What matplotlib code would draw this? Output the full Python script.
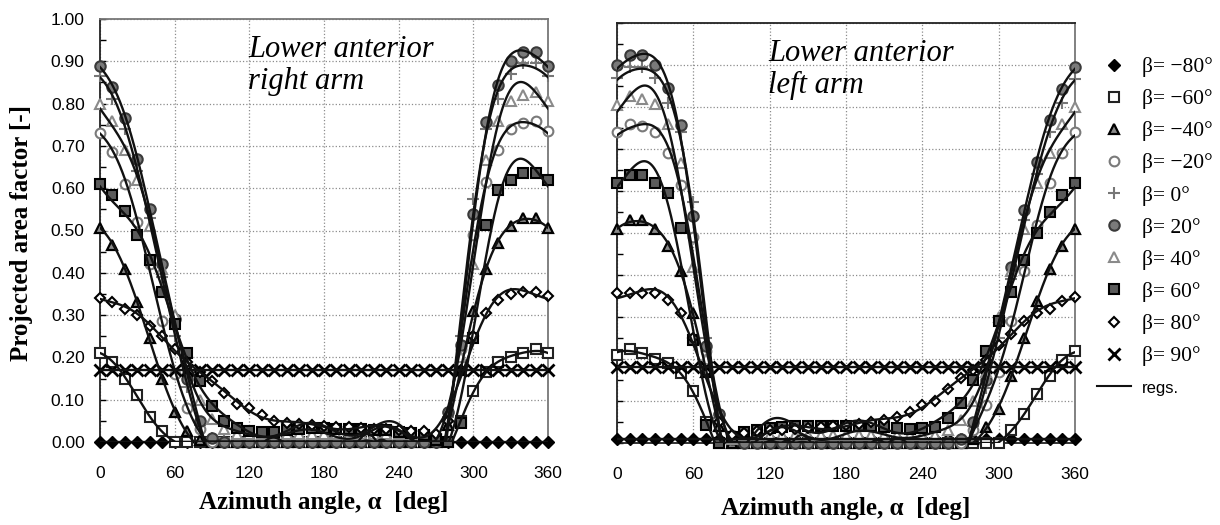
import numpy as np
import matplotlib
matplotlib.use('Agg')
import matplotlib.pyplot as plt
from matplotlib.lines import Line2D

# azimuth angle (deg), one point every 10 deg
azimuth = [0, 10, 20, 30, 40, 50, 60, 70, 80, 90,
           100, 110, 120, 130, 140, 150, 160, 170, 180, 190,
           200, 210, 220, 230, 240, 250, 260, 270, 280, 290,
           300, 310, 320, 330, 340, 350, 360]

betas = [-80, -60, -40, -20, 0, 20, 40, 60, 80, 90]

# ---- lower anterior right arm ----
r_m80 = [0.0, 0.0, 0.0, 0.0, 0.0, 0.0, 0.0, 0.0, 0.0, 0.0,
         0.0, 0.0, 0.0, 0.0, 0.0, 0.0, 0.0, 0.0, 0.0, 0.0,
         0.0, 0.0, 0.0, 0.0, 0.0, 0.0, 0.0, 0.0, 0.0, 0.0,
         0.0, 0.0, 0.0, 0.0, 0.0, 0.0, 0.0]
r_m60 = [0.21, 0.19, 0.15, 0.11, 0.06, 0.025, 0.0, 0.0, 0.0, 0.0,
         0.0, 0.0, 0.0, 0.0, 0.0, 0.0, 0.0, 0.0, 0.0, 0.0,
         0.0, 0.0, 0.0, 0.0, 0.0, 0.0, 0.0, 0.0, 0.0, 0.05,
         0.12, 0.165, 0.19, 0.20, 0.21, 0.22, 0.21]
r_m40 = [0.505, 0.465, 0.41, 0.33, 0.245, 0.15, 0.07, 0.025, 0.005, 0.0,
         0.0, 0.0, 0.0, 0.0, 0.0, 0.0, 0.0, 0.0, 0.0, 0.0,
         0.0, 0.0, 0.0, 0.0, 0.0, 0.0, 0.0, 0.0, 0.04, 0.17,
         0.31, 0.41, 0.47, 0.51, 0.53, 0.53, 0.505]
r_m20 = [0.73, 0.685, 0.61, 0.52, 0.42, 0.285, 0.16, 0.08, 0.03, 0.0,
         0.0, 0.0, 0.0, 0.0, 0.0, 0.0, 0.0, 0.0, 0.0, 0.0,
         0.0, 0.0, 0.0, 0.0, 0.0, 0.0, 0.0, 0.0, 0.07, 0.22,
         0.49, 0.615, 0.69, 0.74, 0.755, 0.76, 0.735]
r_0 = [0.865, 0.81, 0.74, 0.64, 0.53, 0.39, 0.25, 0.13, 0.04, 0.01,
       0.01, 0.01, 0.01, 0.01, 0.01, 0.01, 0.01, 0.01, 0.01, 0.01,
       0.01, 0.01, 0.01, 0.01, 0.01, 0.01, 0.01, 0.0, 0.06, 0.25,
       0.575, 0.74, 0.81, 0.87, 0.895, 0.895, 0.865]
r_20 = [0.89, 0.84, 0.765, 0.67, 0.55, 0.42, 0.29, 0.15, 0.05, 0.01,
        0.0, 0.0, 0.0, 0.0, 0.0, 0.0, 0.0, 0.0, 0.0, 0.0,
        0.0, 0.0, 0.0, 0.0, 0.0, 0.0, 0.0, 0.0, 0.07, 0.23,
        0.54, 0.757, 0.845, 0.90, 0.923, 0.923, 0.89]
r_40 = [0.80, 0.76, 0.69, 0.62, 0.51, 0.41, 0.30, 0.17, 0.10, 0.055,
        0.03, 0.02, 0.02, 0.02, 0.02, 0.02, 0.02, 0.02, 0.02, 0.02,
        0.02, 0.02, 0.02, 0.02, 0.02, 0.02, 0.02, 0.01, 0.06, 0.20,
        0.42, 0.666, 0.76, 0.807, 0.82, 0.827, 0.805]
r_60 = [0.61, 0.585, 0.545, 0.49, 0.43, 0.355, 0.28, 0.21, 0.145, 0.085,
        0.05, 0.033, 0.025, 0.024, 0.024, 0.028, 0.031, 0.033, 0.033, 0.031,
        0.031, 0.031, 0.028, 0.028, 0.024, 0.021, 0.017, 0.005, 0.0, 0.045,
        0.245, 0.513, 0.595, 0.62, 0.637, 0.637, 0.62]
r_80 = [0.34, 0.33, 0.315, 0.30, 0.275, 0.25, 0.22, 0.19, 0.165, 0.145,
        0.115, 0.09, 0.08, 0.065, 0.05, 0.045, 0.042, 0.04, 0.038, 0.036,
        0.035, 0.033, 0.03, 0.03, 0.028, 0.027, 0.025, 0.02, 0.05, 0.17,
        0.25, 0.305, 0.335, 0.35, 0.355, 0.355, 0.345]
r_90 = [0.17, 0.17, 0.17, 0.17, 0.17, 0.17, 0.17, 0.17, 0.17, 0.17,
        0.17, 0.17, 0.17, 0.17, 0.17, 0.17, 0.17, 0.17, 0.17, 0.17,
        0.17, 0.17, 0.17, 0.17, 0.17, 0.17, 0.17, 0.17, 0.17, 0.17,
        0.17, 0.17, 0.17, 0.17, 0.17, 0.17, 0.17]

# ---- lower anterior left arm ----
l_m80 = [0.01, 0.01, 0.01, 0.01, 0.01, 0.01, 0.01, 0.01, 0.01, 0.01,
         0.01, 0.01, 0.01, 0.01, 0.01, 0.01, 0.01, 0.01, 0.01, 0.01,
         0.01, 0.01, 0.01, 0.01, 0.01, 0.01, 0.01, 0.01, 0.01, 0.01,
         0.01, 0.01, 0.01, 0.01, 0.01, 0.01, 0.01]
l_m60 = [0.21, 0.224, 0.214, 0.20, 0.19, 0.167, 0.124, 0.05, 0.0, 0.0,
         0.0, 0.0, 0.0, 0.0, 0.0, 0.0, 0.0, 0.0, 0.0, 0.0,
         0.0, 0.0, 0.0, 0.0, 0.0, 0.0, 0.0, 0.0, 0.0, 0.0,
         0.0, 0.03, 0.07, 0.117, 0.16, 0.198, 0.22]
l_m40 = [0.51, 0.53, 0.53, 0.51, 0.47, 0.41, 0.31, 0.17, 0.04, 0.0,
         0.0, 0.0, 0.0, 0.0, 0.0, 0.0, 0.0, 0.0, 0.0, 0.0,
         0.0, 0.0, 0.0, 0.0, 0.0, 0.0, 0.0, 0.0, 0.01, 0.038,
         0.08, 0.16, 0.25, 0.338, 0.414, 0.47, 0.51]
l_m20 = [0.74, 0.76, 0.755, 0.74, 0.69, 0.615, 0.49, 0.22, 0.07, 0.02,
         0.0, 0.0, 0.0, 0.0, 0.0, 0.0, 0.0, 0.0, 0.0, 0.0,
         0.0, 0.0, 0.0, 0.0, 0.0, 0.0, 0.0, 0.0, 0.03, 0.09,
         0.17, 0.29, 0.41, 0.52, 0.62, 0.69, 0.74]
l_0 = [0.87, 0.895, 0.895, 0.87, 0.81, 0.74, 0.575, 0.25, 0.06, 0.01,
       0.01, 0.01, 0.01, 0.01, 0.01, 0.01, 0.01, 0.01, 0.01, 0.01,
       0.01, 0.01, 0.01, 0.01, 0.01, 0.01, 0.01, 0.01, 0.04, 0.13,
       0.25, 0.39, 0.53, 0.64, 0.74, 0.81, 0.867]
l_20 = [0.90, 0.923, 0.923, 0.90, 0.845, 0.757, 0.54, 0.23, 0.07, 0.01,
        0.0, 0.0, 0.0, 0.0, 0.0, 0.0, 0.0, 0.0, 0.0, 0.0,
        0.0, 0.0, 0.0, 0.0, 0.0, 0.0, 0.0, 0.01, 0.05, 0.15,
        0.29, 0.42, 0.555, 0.67, 0.77, 0.843, 0.895]
l_40 = [0.805, 0.827, 0.82, 0.807, 0.76, 0.666, 0.42, 0.20, 0.06, 0.01,
        0.02, 0.02, 0.02, 0.02, 0.02, 0.02, 0.02, 0.02, 0.02, 0.02,
        0.02, 0.02, 0.02, 0.02, 0.02, 0.02, 0.03, 0.055, 0.10, 0.17,
        0.30, 0.41, 0.51, 0.62, 0.69, 0.76, 0.80]
l_60 = [0.62, 0.637, 0.637, 0.62, 0.595, 0.512, 0.245, 0.043, 0.0, 0.014,
        0.026, 0.031, 0.036, 0.038, 0.04, 0.04, 0.04, 0.04, 0.04, 0.04,
        0.04, 0.038, 0.036, 0.033, 0.036, 0.038, 0.06, 0.095, 0.15, 0.22,
        0.29, 0.36, 0.435, 0.50, 0.55, 0.59, 0.62]
l_80 = [0.357, 0.357, 0.357, 0.357, 0.34, 0.31, 0.25, 0.17, 0.05, 0.02,
        0.025, 0.028, 0.03, 0.032, 0.034, 0.036, 0.038, 0.04, 0.042, 0.045,
        0.05, 0.055, 0.062, 0.074, 0.09, 0.10, 0.128, 0.155, 0.174, 0.198,
        0.233, 0.26, 0.29, 0.31, 0.32, 0.338, 0.348]
l_90 = [0.18, 0.18, 0.18, 0.18, 0.18, 0.18, 0.18, 0.18, 0.18, 0.18,
        0.18, 0.18, 0.18, 0.18, 0.18, 0.18, 0.18, 0.18, 0.18, 0.18,
        0.18, 0.18, 0.18, 0.18, 0.18, 0.18, 0.18, 0.18, 0.18, 0.18,
        0.18, 0.18, 0.18, 0.18, 0.18, 0.18, 0.18]

right_arm = [r_m80, r_m60, r_m40, r_m20, r_0, r_20, r_40, r_60, r_80, r_90]
left_arm = [l_m80, l_m60, l_m40, l_m20, l_0, l_20, l_40, l_60, l_80, l_90]

# marker style per beta
styles = {
    -80: dict(marker='D', ms=6, mfc='black', mec='black', mew=1),
    -60: dict(marker='s', ms=6.5, mfc='white', mec='#222222', mew=1.5),
    -40: dict(marker='^', ms=7.5, mfc='#8a8a8a', mec='black', mew=1.6),
    -20: dict(marker='o', ms=7, mfc='white', mec='#7a7a7a', mew=1.5),
    0: dict(marker='+', ms=9, mfc='none', mec='#777777', mew=1.5),
    20: dict(marker='o', ms=7.5, mfc='#7a7a7a', mec='#3a3a3a', mew=1.5),
    40: dict(marker='^', ms=7.5, mfc='white', mec='#8a8a8a', mew=1.5),
    60: dict(marker='s', ms=7, mfc='#5a5a5a', mec='black', mew=1.5),
    80: dict(marker='D', ms=5.5, mfc='white', mec='black', mew=1.5),
    90: dict(marker='x', ms=8, mfc='none', mec='black', mew=2),
}


def regression(a, v, order=5):
    # fourier series fit; near-zero points only bound the curve from above
    t = np.radians(np.asarray(a, float))
    v = np.asarray(v, float)
    tt = np.linspace(0, 2 * np.pi, 721)
    cols, cols2 = [np.ones_like(t)], [np.ones_like(tt)]
    for k in range(1, order + 1):
        cols += [np.cos(k * t), np.sin(k * t)]
        cols2 += [np.cos(k * tt), np.sin(k * tt)]
    A = np.column_stack(cols)
    low = v <= 0.012
    y = v.copy()
    for _ in range(300):
        coef = np.linalg.lstsq(A, y, rcond=None)[0]
        y = np.where(low, np.minimum(v, A @ coef), v)
    return np.degrees(tt), np.clip(np.column_stack(cols2) @ coef, 0, None)


fig = plt.figure(figsize=(12.2, 5.25), dpi=100)
ax1 = fig.add_axes([100 / 1220, 1 - 442 / 525, 448 / 1220, 423 / 525])
ax2 = fig.add_axes([617 / 1220, 1 - 443 / 525, 458 / 1220, 420 / 525])

tickfont = 'Liberation Sans'
serif = 'Liberation Serif'

for ax, data, title in [(ax1, right_arm, 'Lower anterior\nright arm'),
                        (ax2, left_arm, 'Lower anterior\nleft arm')]:
    for b, vals in zip(betas, data):
        xs, ys = regression(azimuth, vals)
        ax.plot(xs, ys, color='#111111', lw=1.7, zorder=4)
        ax.plot(azimuth, vals, ls='none', clip_on=False, zorder=3, **styles[b])
    ax.set_xlim(0, 360)
    ax.set_ylim(0, 1.0)
    ax.set_xticks([0, 60, 120, 180, 240, 300, 360])
    ax.set_yticks(np.arange(0, 1.01, 0.1))
    ax.set_yticks(np.arange(0.05, 1.0, 0.1), minor=True)
    ax.grid(True, which='major', ls=':', color='#8c8c8c', lw=0.9)
    ax.tick_params(axis='x', length=0, pad=17, labelsize=12.5)
    ax.tick_params(axis='y', which='both', direction='in', length=4, width=1, pad=11, labelsize=12.5)
    for lab in ax.get_xticklabels() + ax.get_yticklabels():
        lab.set_fontfamily(tickfont)
    for s in ax.spines.values():
        s.set_color('#222222')
        s.set_linewidth(1.3)
    ax.spines['right'].set_color('#777777')
    ax.text(119, 0.962, title, fontsize=22, style='italic', family=serif,
            va='top', ha='left', linespacing=1.15, zorder=6)
    ax.set_axisbelow(True)

ax1.spines['top'].set_color('#777777')
ax1.yaxis.set_major_formatter(plt.FormatStrFormatter('%.2f'))
ax2.tick_params(axis='y', labelleft=False)

fig.text(22 / 1220, 1 - 233 / 525, 'Projected area factor [-]', rotation=90,
         ha='center', va='center', fontsize=18, fontweight='bold', family=serif)
fig.text(324 / 1220, 1 - 503 / 525, 'Azimuth angle, α  [deg]',
         ha='center', va='center', fontsize=18, fontweight='bold', family=serif)
fig.text(846 / 1220, 1 - 508 / 525, 'Azimuth angle, α  [deg]',
         ha='center', va='center', fontsize=18, fontweight='bold', family=serif)

handles = [Line2D([], [], ls='none', **styles[b]) for b in betas]
labels = ['β= −80°', 'β= −60°', 'β= −40°', 'β= −20°', 'β= 0°',
          'β= 20°', 'β= 40°', 'β= 60°', 'β= 80°', 'β= 90°']
handles.append(Line2D([], [], color='#111111', lw=1.5))
labels.append('regs.')
leg = fig.legend(handles, labels, loc='upper left', bbox_to_anchor=(1097 / 1220, 1 - 57 / 525),
                 frameon=False, prop={'family': serif, 'size': 15.5}, handlelength=1.6,
                 handletextpad=0.5, labelspacing=0.56, borderpad=0, borderaxespad=0)
leg.get_texts()[-1].set_fontfamily(tickfont)
leg.get_texts()[-1].set_fontsize(12)

fig.savefig('out.png', dpi=100)
